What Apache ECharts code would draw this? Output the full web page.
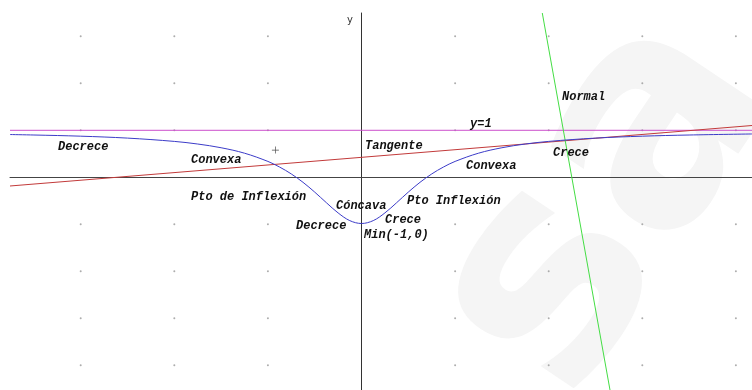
<!DOCTYPE html>
<html>
<head>
<meta charset="utf-8">
<script src="https://cdn.jsdelivr.net/npm/echarts@6/dist/echarts.min.js"></script>
<style>
  html, body { margin: 0; padding: 0; background: #fff; }
  #chart { width: 752px; height: 390px; }
</style>
</head>
<body>
<div id="chart"></div>
<script>
// Visible window of the plane
const xRange = [-7.511, 8.344];
const yRange = [-4.526, 3.496];

// Grid of reference dots
const dotXs = [-6, -4, -2, 2, 4, 6, 8];
const dotYs = [-4, -3, -2, -1, 1, 2, 3];

// Sampled curve (x, y)
const curveX = [-7.511, -7, -6, -5, -4, -3.5, -3, -2.5, -2, -1.75, -1.5, -1.25, -1, -0.75, -0.5, -0.25,
                0, 0.25, 0.5, 0.75, 1, 1.25, 1.5, 1.75, 2, 2.5, 3, 3.5, 4, 5, 6, 7, 8.344];
const curveY = [0.910, 0.900, 0.875, 0.834, 0.764, 0.708, 0.629, 0.513, 0.338, 0.218, 0.071, -0.107,
                -0.315, -0.541, -0.758, -0.922, -0.983, -0.922, -0.758, -0.541, -0.315, -0.107, 0.071,
                0.218, 0.338, 0.513, 0.629, 0.708, 0.764, 0.834, 0.875, 0.900, 0.922];

// Horizontal asymptote y = 1
const asymptoteY = 1;

// Tangent and normal lines, given by their end points
const tangentPts = [[-7.511, -0.185], [8.344, 1.102]];
const normalPts = [[3.863, 3.496], [5.310, -4.526]];

// Marked point
const markPt = [-1.84, 0.58];

// Annotations
const labels = [
  { text: 'Decrece', x: 58, y: 147 },
  { text: 'Convexa', x: 191, y: 160 },
  { text: 'Pto de Inflexión', x: 191, y: 197 },
  { text: 'Tangente', x: 365, y: 146 },
  { text: 'y=1', x: 470, y: 124 },
  { text: 'Cóncava', x: 336, y: 206 },
  { text: 'Pto Inflexión', x: 407, y: 201 },
  { text: 'Decrece', x: 296, y: 226 },
  { text: 'Crece', x: 385, y: 220 },
  { text: 'Min(-1,0)', x: 364, y: 235 },
  { text: 'Convexa', x: 466, y: 166 },
  { text: 'Crece', x: 553, y: 153 },
  { text: 'Normal', x: 562, y: 97 }
];

const dots = [];
dotXs.forEach(x => dotYs.forEach(y => dots.push([x, y])));
const curve = curveX.map((x, i) => [x, curveY[i]]);

const chart = echarts.init(document.getElementById('chart'), null, { renderer: 'canvas' });

const labelEls = labels.map(l => ({
  type: 'text', left: l.x, top: l.y - 6, z: 10,
  style: {
    text: l.text, fill: '#111',
    font: 'italic bold 12px "Liberation Mono", "DejaVu Sans Mono", monospace'
  }
}));

chart.setOption({
  animation: false,
  backgroundColor: '#fff',
  grid: { left: 10, right: 0, top: 13, bottom: 0 },
  xAxis: {
    type: 'value', min: xRange[0], max: xRange[1],
    axisLine: { show: true, onZero: true, lineStyle: { color: '#444', width: 1 } },
    axisTick: { show: false }, axisLabel: { show: false }, splitLine: { show: false }
  },
  yAxis: {
    type: 'value', min: yRange[0], max: yRange[1],
    axisLine: { show: true, onZero: true, lineStyle: { color: '#333', width: 1 } },
    axisTick: { show: false }, axisLabel: { show: false }, splitLine: { show: false }
  },
  graphic: [
    {
      type: 'text', x: 610, y: 205, rotation: 0.98, z: -10, silent: true,
      style: {
        text: 'sa', fill: '#f5f5f5',
        font: 'bold 300px "DejaVu Sans", sans-serif',
        textAlign: 'center', textVerticalAlign: 'middle'
      }
    },
    { type: 'text', left: 347, top: 15, style: { text: 'y', fill: '#333', font: '10px "DejaVu Sans", sans-serif' } }
  ].concat(labelEls),
  series: [
    {
      type: 'scatter', data: dots, symbolSize: 2, silent: true,
      itemStyle: { color: '#999' }
    },
    {
      type: 'line', data: [[xRange[0], asymptoteY], [xRange[1], asymptoteY]],
      showSymbol: false, silent: true, lineStyle: { color: '#cc4fcc', width: 1 }
    },
    {
      type: 'line', data: tangentPts, showSymbol: false, silent: true,
      lineStyle: { color: '#c23a3a', width: 1 }
    },
    {
      type: 'line', data: normalPts, showSymbol: false, silent: true,
      lineStyle: { color: '#44dd44', width: 1 }
    },
    {
      type: 'line', data: curve, smooth: 0.35, showSymbol: false, silent: true,
      lineStyle: { color: '#3c3cc8', width: 1 }
    },
    {
      type: 'scatter', data: [markPt], silent: true,
      symbol: 'path://M4.5,0H5.5V4.5H10V5.5H5.5V10H4.5V5.5H0V4.5H4.5Z', symbolSize: 7,
      itemStyle: { color: '#222' }
    }
  ]
});
</script>
</body>
</html>
